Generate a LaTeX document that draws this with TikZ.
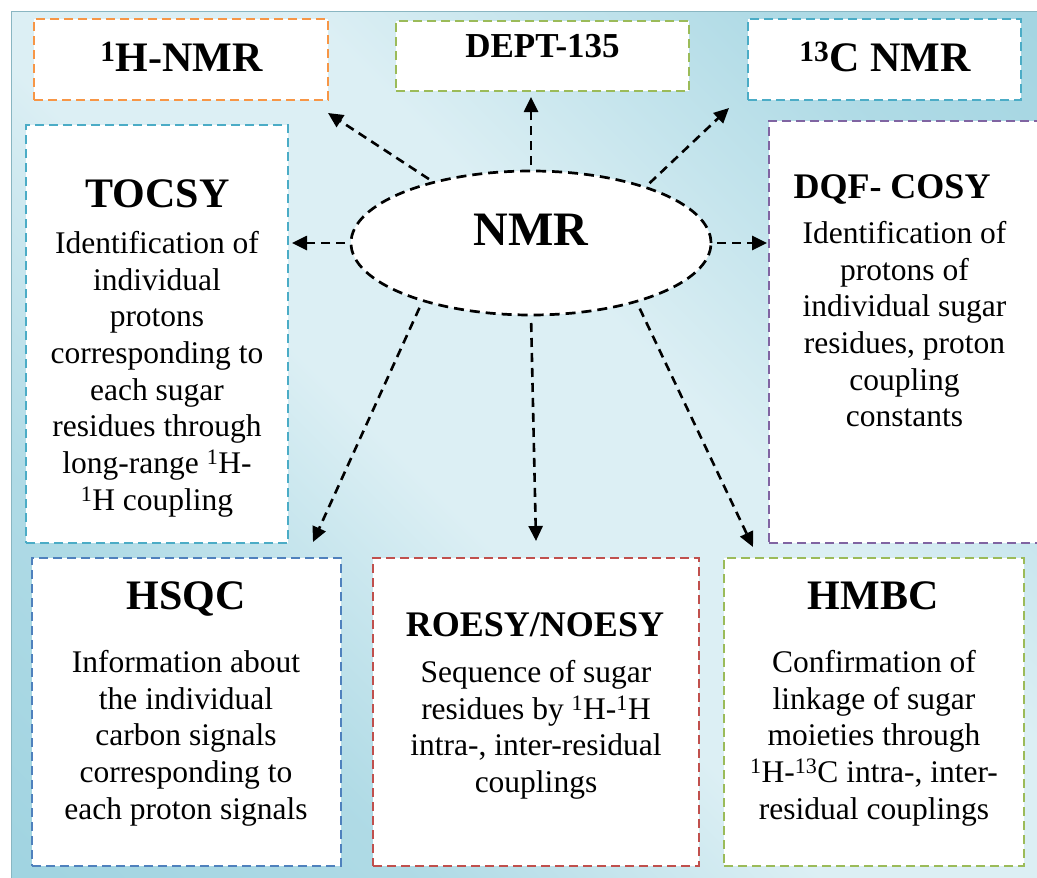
\documentclass[tikz,border=0pt]{standalone}
\usepackage{fontspec}
\setmainfont{Liberation Serif}
\usetikzlibrary{arrows.meta,calc,shapes.geometric}
\definecolor{bgdark}{HTML}{92CDDC}
\definecolor{bglight}{HTML}{DCEFF4}
\definecolor{cOrange}{HTML}{F79646}
\definecolor{cGreen}{HTML}{9BBB59}
\definecolor{cAqua}{HTML}{4BACC6}
\definecolor{cPurple}{HTML}{8064A2}
\definecolor{cBlue}{HTML}{4F81BD}
\definecolor{cRed}{HTML}{C0504D}
\pgfdeclarehorizontalshading{bgdiag}{100bp}{color(0bp)=(bgdark); color(30bp)=(bgdark!60!bglight); color(45bp)=(bglight); color(58bp)=(bglight); color(75bp)=(bgdark!60!bglight); color(100bp)=(bgdark)}
\tikzset{
  framebox/.style={draw=#1, fill=white, line width=2.8pt, dash pattern=on 9pt off 5pt, inner sep=0pt, outer sep=0pt},
  ttl/.style={anchor=base, inner sep=0pt, font=\fontsize{42}{48}\selectfont\bfseries},
  ttlsmall/.style={anchor=base, inner sep=0pt, font=\fontsize{36}{42}\selectfont\bfseries},
  bodytxt/.style={anchor=north, inner sep=0pt, align=center, font=\fontsize{31.5}{36.7}\selectfont},
  conn/.style={line width=2.6pt, dash pattern=on 9pt off 6pt, -{Triangle[length=15pt,width=14pt]}, shorten <=6pt}
}
\begin{document}
\begin{tikzpicture}[x=1pt,y=-1pt]
\useasboundingbox (0,0) rectangle (1037,878);
\shade[shading=bgdiag, shading angle=45] (11,11) rectangle (1037,878);
\draw[bgdark!85!black!90, line width=1.2pt] (1037,11.5) -- (11.5,11.5) -- (11.5,878);
% boxes
\node[framebox=cOrange, minimum width=294, minimum height=81] (hnmr) at (181,59.5) {};
\node[framebox=cGreen, minimum width=293, minimum height=70] (dept) at (542.5,56) {};
\node[framebox=cAqua, minimum width=273, minimum height=81] (cnmr) at (884.5,59.5) {};
\node[framebox=cAqua, minimum width=262, minimum height=418] (tocsy) at (157,334) {};
\node[framebox=cPurple, minimum width=290, minimum height=422] (dqf) at (914,332) {};
\node[framebox=cBlue, minimum width=309, minimum height=308] (hsqc) at (186.5,712) {};
\node[framebox=cRed, minimum width=326, minimum height=308] (roesy) at (536,712) {};
\node[framebox=cGreen, minimum width=300, minimum height=308] (hmbc) at (874,712) {};
\node[ellipse, draw=black, fill=white, line width=2.7pt, dash pattern=on 10pt off 6pt, minimum width=360, minimum height=144, inner sep=0pt, outer sep=0pt] (nmr) at (531,243) {};
% titles
\node[ttl] (hnmrT) at (181.5,71) {\textsuperscript{1}H-NMR};
\node[anchor=base, inner sep=0pt, font=\fontsize{35}{40}\selectfont\bfseries] (deptT) at (542.5,57) {DEPT-135};
\node[ttl] (cnmrT) at (885,71) {\textsuperscript{13}C NMR};
\node[anchor=base, inner sep=0pt, font=\fontsize{48}{54}\selectfont\bfseries] (nmrT) at (531,245) {NMR};
\node[ttl] (tocsyT) at (157.5,207) {TOCSY};
\node[ttlsmall] (dqfT) at (892,198) {DQF- COSY};
\node[ttl] (hsqcT) at (186,609) {HSQC};
\node[ttlsmall] (roesyT) at (535,636) {ROESY/NOESY};
\node[ttl] (hmbcT) at (873,609) {HMBC};
% bodies
\node[bodytxt] (tocsyB) at (157,231) {Identification of\\individual\\protons\\corresponding to\\each sugar\\residues through\\long-range \textsuperscript{1}H-\\\textsuperscript{1}H coupling};
\node[bodytxt] (dqfB) at (904.5,221) {Identification of\\protons of\\individual sugar\\residues, proton\\coupling\\constants};
\node[bodytxt] (hsqcB) at (186,650) {Information about\\the individual\\carbon signals\\corresponding to\\each proton signals};
\node[bodytxt] (roesyB) at (536,660) {Sequence of sugar\\residues by \textsuperscript{1}H-\textsuperscript{1}H\\intra-, inter-residual\\couplings};
\node[bodytxt] (hmbcB) at (874,650) {Confirmation of\\linkage of sugar\\moieties through\\\textsuperscript{1}H-\textsuperscript{13}C intra-, inter-\\residual couplings};
% connectors
\draw[conn] (nmr.148) -- ($(hnmr.south east)+(0,13)$);
\draw[conn] (nmr.north) -- ($(nmr.north |- dept.south)+(0,6)$);
\draw[conn] (nmr.26) -- ($(cnmr.south west)+(-19,8)$);
\draw[conn, shorten >=4pt] (nmr.west) -- (tocsy.east |- nmr.west);
\draw[conn, shorten >=2pt] (nmr.east) -- (dqf.west |- nmr.east);
\draw[conn, shorten <=8pt] (nmr.208) -- ($(hsqc.north east)+(-28,-16)$);
\draw[conn, shorten <=8pt] (nmr.south) -- ($(roesy.north)+(0,-17)$);
\draw[conn, shorten <=8pt] (nmr.331) -- ($(hmbc.north west)+(29,-11)$);
\end{tikzpicture}
\end{document}
